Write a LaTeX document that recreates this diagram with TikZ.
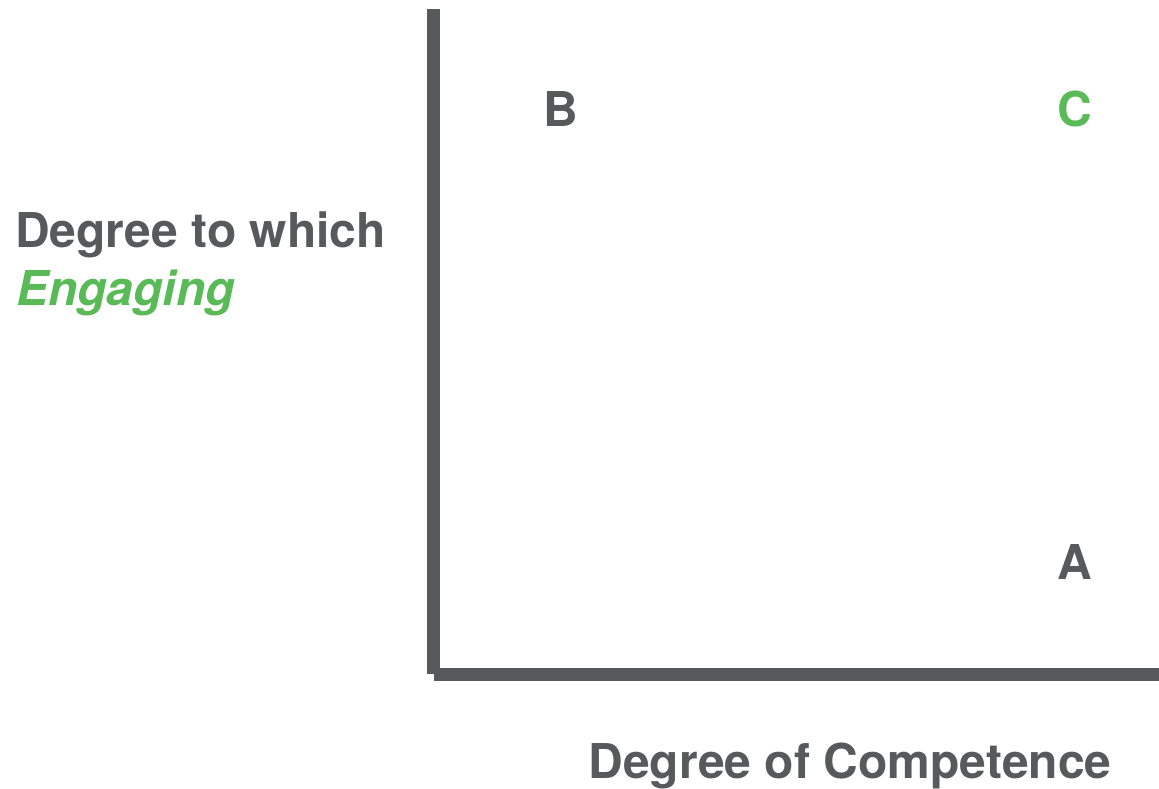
\documentclass[tikz,border=0pt]{standalone}
\usepackage{fontspec}
\setmainfont{TeX Gyre Heros}
\usetikzlibrary{positioning}

\definecolor{axisgray}{HTML}{58595B}
\definecolor{engagegreen}{HTML}{5BBA58}

\begin{document}
\begin{tikzpicture}[
    x=1pt, y=-1pt,
    axisline/.style={
        draw=axisgray,
        line width=12.5pt
    },
    quadlabel/.style={
        font=\fontsize{48}{56}\selectfont\bfseries,
        text=axisgray,
        anchor=base,
        inner sep=0pt
    },
    axislabel/.style={
        font=\fontsize{48}{59}\selectfont\bfseries,
        text=axisgray,
        inner sep=0pt
    }
]
\useasboundingbox (0,0) rectangle (1159,788);

% --- Axes ------------------------------------------------------------------
\coordinate (origin) at (433.5, 674.5);
\coordinate (ytop)   at (433.5, 9);
\coordinate (xend)   at (1165, 674.5);

\draw[axisline] (ytop) -- ([yshift=0.5pt]origin.center);
\draw[axisline] (origin) -- (xend);

% --- Quadrant letters ------------------------------------------------------
\node[quadlabel] (qb) at (561, 126) {B};
\node[quadlabel, text=engagegreen] (qc) at (1075, 126) {C};
\node[quadlabel] (qa) at (1075, 579) {A};

% --- Axis titles -----------------------------------------------------------
\node[axislabel, anchor=base west] (ytitle) at (15, 247) {Degree to which};
\node[axislabel, anchor=base west, text=engagegreen,
      font=\fontsize{48}{59}\selectfont\bfseries\itshape]
    (yword) at (16, 305) {Engaging};
\node[axislabel, anchor=base] (xtitle) at (850, 778) {Degree of Competence};

\end{tikzpicture}
\end{document}
